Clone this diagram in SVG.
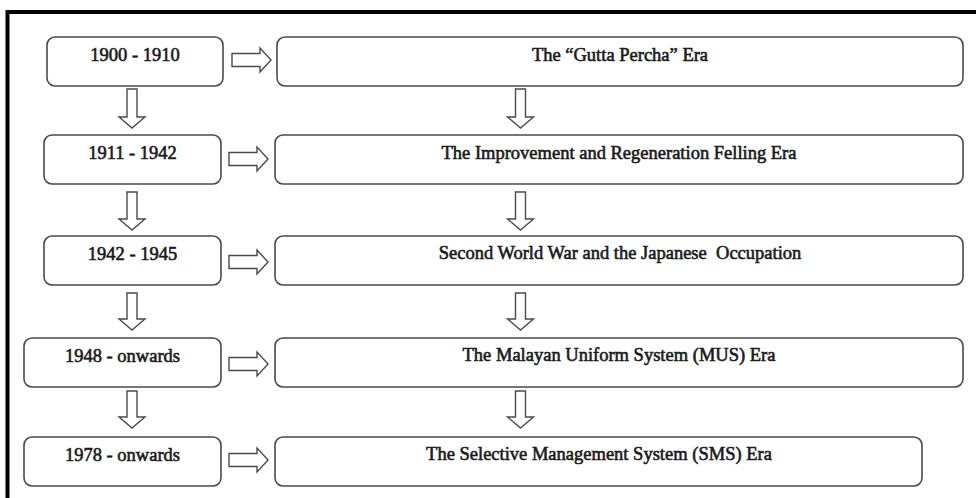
<svg xmlns="http://www.w3.org/2000/svg" width="976" height="498" viewBox="0 0 976 498">
<style>
.box{fill:#fff;stroke:#4a4a4a;stroke-width:1.6}
.arr{fill:#fff;stroke:#4a4a4a;stroke-width:1.4;stroke-linejoin:miter}
.t{font-family:"Liberation Serif","Times New Roman",serif;font-size:18.5px;fill:#1a1a1a;stroke:#1a1a1a;stroke-width:0.6;text-anchor:middle}
</style>
<rect width="976" height="498" fill="#fff"/>
<path d="M7.5,498 V12 H976" fill="none" stroke="#000" stroke-width="4"/>
<g id="n1900"><rect class="box" x="47" y="37" width="176" height="49" rx="8"/><text class="t" x="135" y="61">1900 - 1910</text></g>
<g id="n1911"><rect class="box" x="44" y="135" width="177" height="49" rx="8"/><text class="t" x="132.5" y="159">1911 - 1942</text></g>
<g id="n1942"><rect class="box" x="44" y="236" width="177" height="49" rx="8"/><text class="t" x="132.5" y="260">1942 - 1945</text></g>
<g id="n1948"><rect class="box" x="24" y="338" width="197" height="49" rx="8"/><text class="t" x="122.5" y="362">1948 - onwards</text></g>
<g id="n1978"><rect class="box" x="24" y="437" width="197" height="49" rx="8"/><text class="t" x="122.5" y="461">1978 - onwards</text></g>
<g id="eGutta"><rect class="box" x="277" y="37" width="686" height="49" rx="8"/><text class="t" x="620" y="61">The “Gutta Percha” Era</text></g>
<g id="eImprove"><rect class="box" x="275" y="135" width="688" height="49" rx="8"/><text class="t" x="619" y="159">The Improvement and Regeneration Felling Era</text></g>
<g id="eWar"><rect class="box" x="275" y="236" width="688" height="49" rx="8"/><text class="t" x="620" y="259" xml:space="preserve">Second World War and the Japanese  Occupation</text></g>
<g id="eMUS"><rect class="box" x="275" y="338" width="688" height="49" rx="8"/><text class="t" x="619" y="361">The Malayan Uniform System (MUS) Era</text></g>
<g id="eSMS"><rect class="box" x="275" y="437" width="647" height="49" rx="8"/><text class="t" x="599" y="460">The Selective Management System (SMS) Era</text></g>
<g id="connectors">
<path class="arr" d="M232,53.5 H260 V48 L271,60 L260,72 V66.5 H232 Z"/>
<path class="arr" d="M229,152.5 H257 V147 L268,159 L257,171 V165.5 H229 Z"/>
<path class="arr" d="M229,255.5 H257 V250 L268,262 L257,274 V268.5 H229 Z"/>
<path class="arr" d="M229,357.5 H257 V352 L268,364 L257,376 V370.5 H229 Z"/>
<path class="arr" d="M229,453.5 H257 V448 L268,460 L257,472 V466.5 H229 Z"/>
<path class="arr" d="M127,89 H137 V117 H145 L132,128 L119,117 H127 Z"/>
<path class="arr" d="M127,192 H137 V219 H145 L132,230 L119,219 H127 Z"/>
<path class="arr" d="M127,293 H137 V319 H145 L132,330 L119,319 H127 Z"/>
<path class="arr" d="M127,391 H137 V417 H145 L132,428 L119,417 H127 Z"/>
<path class="arr" d="M515.5,89 H525.5 V117 H533.5 L520.5,128 L507.5,117 H515.5 Z"/>
<path class="arr" d="M515.5,192 H525.5 V219 H533.5 L520.5,230 L507.5,219 H515.5 Z"/>
<path class="arr" d="M515.5,293 H525.5 V319 H533.5 L520.5,330 L507.5,319 H515.5 Z"/>
<path class="arr" d="M515.5,391 H525.5 V417 H533.5 L520.5,428 L507.5,417 H515.5 Z"/>
</g>
</svg>
